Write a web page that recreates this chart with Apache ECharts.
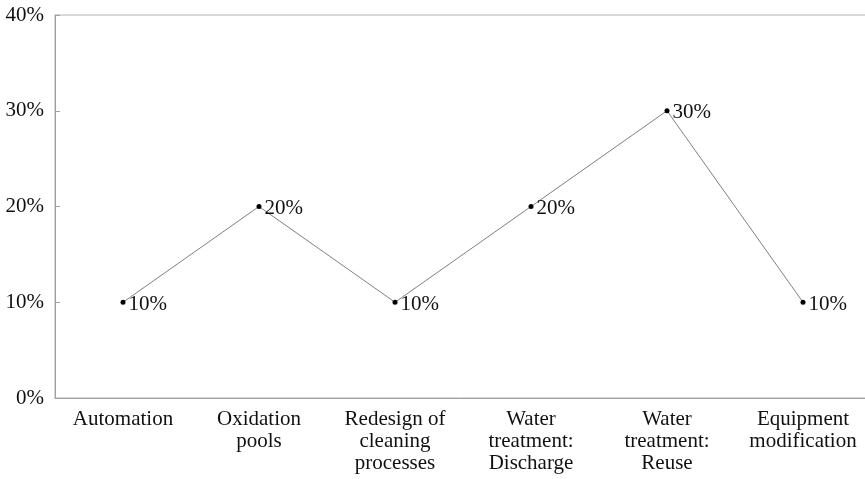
<!DOCTYPE html>
<html><head><meta charset="utf-8">
<script src="https://cdn.jsdelivr.net/npm/echarts@6/dist/echarts.min.js"></script>
<style>html,body{margin:0;padding:0;background:#fff}#c{width:865px;height:479px}</style>
</head><body><div id="c"></div>
<script>
const categories = ["Automation","Oxidation\npools","Redesign of\ncleaning\nprocesses","Water\ntreatment:\nDischarge","Water\ntreatment:\nReuse","Equipment\nmodification"];
const values = [10, 20, 10, 20, 30, 10];
const yTicks = [0, 10, 20, 30, 40];
const font = "'Liberation Serif', 'Times New Roman', serif";
const chart = echarts.init(document.getElementById('c'));
chart.setOption({
  animation: false,
  grid: {left: 55, width: 816, top: 15, height: 383, show: true, borderColor: '#b0b0b0', borderWidth: 1, containLabel: false, outerBoundsMode: 'none'},
  xAxis: {
    type: 'category', data: categories, boundaryGap: true,
    axisLine: {lineStyle: {color: '#a0a0a0', width: 1}},
    axisTick: {show: false},
    axisLabel: {fontFamily: font, fontSize: 21, color: '#111', lineHeight: 22, margin: 10, interval: 0}
  },
  yAxis: {
    type: 'value', min: yTicks[0], max: yTicks[yTicks.length-1], interval: 10,
    axisLine: {show: true, lineStyle: {color: '#a0a0a0', width: 1}},
    axisTick: {show: true, inside: true, length: 5, lineStyle: {color: '#a0a0a0'}},
    splitLine: {show: false},
    axisLabel: {fontFamily: font, fontSize: 21, color: '#111', margin: 11, formatter: '{value}%'}
  },
  series: [{
    type: 'line', data: values,
    symbol: 'circle', symbolSize: 5,
    itemStyle: {color: '#000'},
    lineStyle: {color: '#7f7f7f', width: 1},
    label: {show: true, position: 'right', distance: 3, formatter: '{c}%', fontFamily: font, fontSize: 21, color: '#111', offset: [0, 2]}
  }]
});
</script></body></html>
